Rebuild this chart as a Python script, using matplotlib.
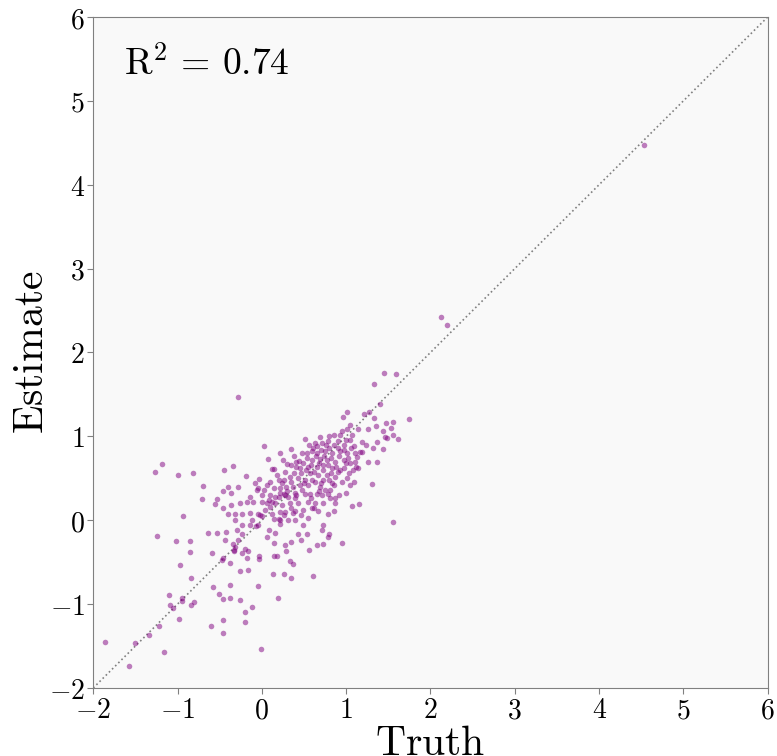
import matplotlib
matplotlib.use("Agg")
import matplotlib.pyplot as plt

plt.rcParams["mathtext.fontset"] = "cm"

# outliers and the upper tail
truth_a = [4.53, 2.13, 2.20, 1.45, 1.59, 1.33, 1.40, 1.27, 1.21, 1.33, 1.74, 1.55, 1.47, 1.35, 1.53, 1.26, 1.14]
est_a = [4.47, 2.42, 2.33, 1.75, 1.74, 1.62, 1.39, 1.29, 1.27, 1.22, 1.21, 1.17, 1.16, 1.12, 1.10, 1.09, 1.09]

# right edge of the cluster
truth_b = [1.56, 1.15, 1.31, 1.26, 1.36, 1.14, 1.12, 1.19, 1.16, 1.13,
           1.32, 1.44, 1.23, 1.19, 1.36, 1.46, 1.49, 1.61, 1.56, 1.44]
est_b = [-0.02, 0.19, 0.43, 0.69, 0.69, 0.62, 0.64, 0.81, 0.81, 0.75,
         0.86, 0.85, 0.90, 0.93, 0.93, 0.99, 0.98, 0.97, 1.02, 1.06]

# lower-left tail
truth_c = [-0.71, -0.53, -0.55, -0.46, -0.46, -0.93, -1.24, -1.02, -0.85, -0.64,
           -0.53, -0.85, -0.59, -0.47, -0.46, -0.97, -0.84, -0.58, -0.51, -0.46,
           -1.10, -0.95, -0.95, -1.09, -1.05, -0.80, -0.84, -0.98, -0.46, -0.60,
           -0.46, -1.22, -1.34, -1.50, -1.86, -1.16, -1.57,
           -1.18, -1.27, -1.00, -0.82, -0.70, -0.45]
est_c = [0.25, 0.25, 0.19, 0.14, 0.35, 0.05, -0.19, -0.25, -0.25, -0.15,
         -0.15, -0.38, -0.39, -0.47, -0.45, -0.53, -0.69, -0.80, -0.88, -0.94,
         -0.89, -0.93, -0.96, -1.01, -1.05, -0.98, -1.01, -1.18, -1.19, -1.26,
         -1.34, -1.26, -1.37, -1.46, -1.45, -1.57, -1.74,
         0.67, 0.57, 0.54, 0.56, 0.41, 0.60]

# upper-left scatter
truth_d = [-0.28, 0.96, 1.01, 0.35, 0.03, 0.07, 0.25, -0.34, -0.19, -0.03, 0.12, 0.14, -0.28, -0.40, -0.08]
est_d = [1.47, 1.23, 1.29, 0.85, 0.88, 0.73, 0.72, 0.65, 0.53, 0.49, 0.61, 0.61, 0.40, 0.40, 0.44]

# lower half of the cluster
truth_e = [-0.36, -0.14, -0.06, 0.08, 0.12, 0.16, 0.22, 0.26, 0.28, 0.31,
           0.39, 0.39, 0.51, 0.57, 0.65, 0.71, 0.81, 0.87, 0.75,
           -0.36, -0.26, -0.18, 0.00, 0.06, 0.10, 0.16, 0.24, 0.33, 0.43, 0.55, 0.63, 0.73, 0.87, 1.07,
           -0.40, -0.32, -0.24, -0.14, -0.04, 0.12, 0.22, 0.28, 0.37, 0.39, 0.49, 0.59, 0.67, 0.79, 0.85,
           -0.32, -0.12, -0.02, 0.00, 0.20, 0.22, 0.31, 0.39, 0.49, 0.22, -0.04, -0.07, -0.14, -0.24,
           -0.42, -0.30, -0.24, 0.08, 0.16, 0.43, 0.53, 0.71, 0.80, 0.72,
           -0.44, -0.28, 0.06, 0.14, 0.35, 0.47, 0.66, 0.73, 0.78, 0.95,
           -0.34, -0.32, -0.33, -0.33, -0.20, -0.17, -0.24, 0.28, 0.29, 0.56,
           -0.38, -0.18, -0.03, -0.03, 0.14, 0.18, 0.33, 0.37,
           -0.26, -0.16, 0.13, 0.26, 0.35, 0.61,
           -0.38, -0.05, -0.38, -0.26, 0.19, -0.12, -0.20, -0.20, -0.01]
est_e = [0.33, 0.28, 0.36, 0.24, 0.22, 0.28, 0.32, 0.31, 0.30, 0.28,
         0.32, 0.26, 0.31, 0.31, 0.31, 0.30, 0.26, 0.26, 0.36,
         0.18, 0.20, 0.22, 0.22, 0.20, 0.16, 0.20, 0.18, 0.20, 0.20, 0.22, 0.20, 0.20, 0.20, 0.17,
         0.08, 0.08, 0.08, 0.09, 0.08, 0.08, 0.10, 0.10, 0.09, 0.11, 0.12, 0.14, 0.11, 0.08, 0.11,
         0.00, 0.00, 0.06, 0.05, 0.02, 0.00, 0.00, 0.00, -0.06, -0.04, -0.06, -0.07, -0.06, -0.06,
         -0.14, -0.12, -0.16, -0.12, -0.15, -0.16, -0.16, -0.12, -0.16, -0.06,
         -0.24, -0.24, -0.20, -0.27, -0.26, -0.24, -0.30, -0.28, -0.20, -0.27,
         -0.28, -0.32, -0.36, -0.37, -0.34, -0.37, -0.39, -0.29, -0.37, -0.35,
         -0.51, -0.45, -0.43, -0.46, -0.43, -0.43, -0.49, -0.52,
         -0.60, -0.59, -0.64, -0.64, -0.69, -0.67,
         -0.77, -0.79, -0.93, -0.95, -0.93, -1.03, -1.09, -1.21, -1.53]

# upper half of the cluster
truth_f = [1.05, 1.01, 0.93, 0.85, 1.07, 0.51, 0.69, 0.63, 0.71, 0.79,
           0.85, 0.97, 1.05, 1.09, 0.61, 0.53, 0.65, 0.75, 0.83, 0.93,
           1.01, 1.11, 0.59, 0.69, 0.77, 0.87, 0.97, 1.05, 0.49, 0.55,
           0.65, 0.73, 0.83, 0.93, 0.47, 0.57, 0.67, 0.77, 0.87, 1.01,
           0.51, 0.63, 0.73, 1.09, 0.83]
est_f = [1.13, 1.09, 1.02, 1.02, 1.02, 0.97, 0.99, 0.92, 0.92, 0.94,
         0.90, 0.90, 0.96, 0.88, 0.86, 0.80, 0.80, 0.82, 0.80, 0.82,
         0.80, 0.80, 0.72, 0.73, 0.72, 0.70, 0.72, 0.68, 0.68, 0.64,
         0.64, 0.66, 0.62, 0.60, 0.56, 0.56, 0.54, 0.54, 0.52, 0.50,
         0.48, 0.46, 0.48, 0.46, 0.44]

# middle band
truth_g = [0.43, 0.33, 0.26, 0.18, 0.10, 0.02, 0.14, 0.22, 0.29, 0.37,
           0.45, 0.55, 0.85, 0.69, 1.05, 0.81, 0.41, 0.30, 0.38, 0.44, 0.22]
est_g = [0.50, 0.52, 0.48, 0.54, 0.46, 0.36, 0.38, 0.38, 0.40, 0.40,
         0.42, 0.42, 0.42, 0.40, 0.42, 0.36, 0.64, 0.67, 0.76, 0.71, 0.80]

# dense core
truth_h = [0.20, 0.30, 0.40, 0.48, 0.58, 0.68, 0.78, 0.92, 1.00,
           0.24, 0.34, 0.50, 0.60, 0.70, 0.80, 0.95, 1.03,
           0.28, 0.38, 0.52, 0.62, 0.72, 0.82, 0.90, 0.98, 1.08,
           0.34, 0.45, 0.58, 0.68, 0.78, 0.88, 1.00, 1.10,
           0.40, 0.54, 0.64, 0.74, 0.82, 0.92, 1.02,
           0.48, 0.60, 0.70, 0.80, 0.90, 0.98, 1.06,
           0.56, 0.66, 0.76, 0.90, 1.00, 0.95, 0.80,
           0.10, 0.00, -0.10, 0.04, 0.14, 0.26, 0.34, 0.46, 0.55, 0.62,
           0.20, 0.06, -0.05]
est_h = [0.28, 0.35, 0.30, 0.36, 0.26, 0.35, 0.31, 0.30, 0.33,
         0.44, 0.46, 0.44, 0.48, 0.44, 0.48, 0.46, 0.56,
         0.58, 0.56, 0.60, 0.58, 0.60, 0.56, 0.58, 0.62, 0.60,
         0.66, 0.62, 0.66, 0.68, 0.66, 0.64, 0.68, 0.70,
         0.70, 0.74, 0.76, 0.77, 0.74, 0.76, 0.74,
         0.80, 0.82, 0.84, 0.86, 0.86, 0.84, 0.86,
         0.90, 0.88, 0.90, 0.94, 0.96, 1.06, 1.00,
         0.30, 0.30, 0.22, 0.12, 0.02, 0.06, 0.14, 0.06, 0.03, 0.14,
         0.48, 0.42, 0.38]

truth = truth_a + truth_b + truth_c + truth_d + truth_e + truth_f + truth_g + truth_h
estimate = est_a + est_b + est_c + est_d + est_e + est_f + est_g + est_h
r2 = 0.74

ticks = [-2, -1, 0, 1, 2, 3, 4, 5, 6]

fig = plt.figure(figsize=(7.77, 7.56), dpi=100)
ax = fig.add_axes([0.12, 0.09, 0.868, 0.8875])
ax.set_facecolor("#f9f9f9")

ax.plot([-2, 6], [-2, 6], linestyle=":", color="gray", linewidth=1.2, zorder=1)
ax.scatter(truth, estimate, s=16, color="purple", alpha=0.5, linewidths=0, zorder=2)

ax.set_xlim(-2, 6)
ax.set_ylim(-2, 6)
ax.set_xticks(ticks)
ax.set_yticks(ticks)
ax.set_xticklabels([rf"${t}$" for t in ticks], fontsize=20)
ax.set_yticklabels([rf"${t}$" for t in ticks], fontsize=20)
ax.tick_params(direction="out", length=4, color="gray", pad=2)
for sp in ax.spines.values():
    sp.set_color("gray")

ax.set_xlabel(r"$\mathrm{Truth}$", fontsize=30, labelpad=-2)
ax.set_ylabel(r"$\mathrm{Estimate}$", fontsize=30, labelpad=-2)

ax.text(0.045, 0.93, rf"$\mathrm{{R}}^2\,=\,{r2:.2f}$", transform=ax.transAxes,
        fontsize=27, va="center", ha="left")

fig.savefig("out.png", dpi=100)
